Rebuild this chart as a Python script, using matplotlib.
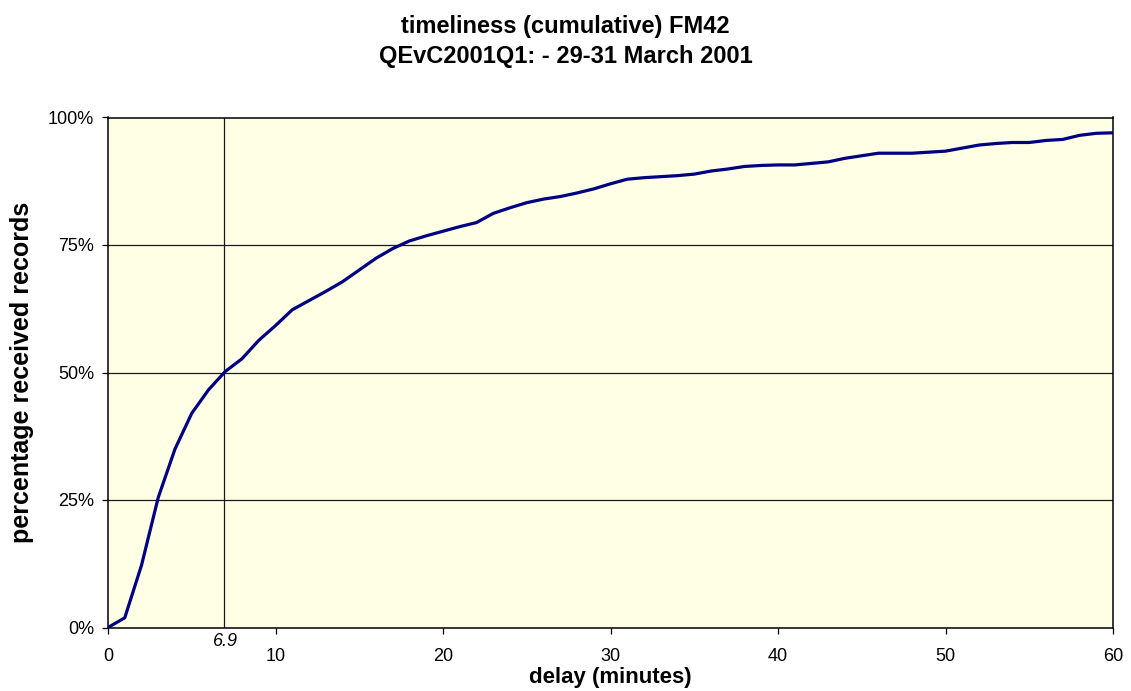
import matplotlib
matplotlib.use("Agg")
import matplotlib.pyplot as plt
from matplotlib.ticker import FuncFormatter
from matplotlib.transforms import offset_copy

plt.rcParams['font.family'] = ['Liberation Sans', 'DejaVu Sans']

delay_minutes = list(range(0, 61))
cumulative_pct = [
    0.0, 1.9, 12.2, 25.5, 35.0, 42.0, 46.6, 50.2, 52.7, 56.3,
    59.2, 62.3, 64.1, 65.9, 67.8, 70.1, 72.4, 74.3, 75.8, 76.8,
    77.7, 78.6, 79.4, 81.2, 82.3, 83.3, 84.0, 84.5, 85.2, 86.0,
    87.0, 87.9, 88.2, 88.4, 88.6, 88.9, 89.5, 89.9, 90.4, 90.6,
    90.7, 90.7, 91.0, 91.3, 92.0, 92.5, 93.0, 93.0, 93.0, 93.2,
    93.4, 94.0, 94.6, 94.9, 95.1, 95.1, 95.5, 95.7, 96.5, 96.9,
    97.0,
]
median_delay = 6.9
x_ticks = [0, 10, 20, 30, 40, 50, 60]
y_ticks = [0, 25, 50, 75, 100]
title_lines = ["timeliness (cumulative) FM42", "QEvC2001Q1: - 29-31 March 2001"]

W, H = 1131, 691
L, R, T, B = 108, 1113, 117.5, 627.5

fig = plt.figure(figsize=(W / 100, H / 100), dpi=100)
ax = fig.add_axes([L / W, 1 - B / H, (R - L) / W, (B - T) / H])
ax.set_facecolor('#FFFFE6')

for yv in y_ticks[1:-1]:
    ax.axhline(yv, color='#1a1a1a', lw=0.9, zorder=1)
ax.axvline(median_delay, color='#1a1a1a', lw=0.9, zorder=1)

ax.plot(delay_minutes, cumulative_pct, color='#000080', lw=2.3, zorder=3,
        solid_joinstyle='round')

ax.set_xlim(0, 60)
ax.set_ylim(0, 100)
ax.set_xticks(x_ticks)
ax.set_yticks(y_ticks)
ax.yaxis.set_major_formatter(FuncFormatter(lambda v, p: f"{int(v)}%"))
ax.tick_params(axis='both', direction='out', length=4, width=0.9,
               labelsize=13, colors='#000000')
ax.tick_params(axis='x', pad=11)
ax.tick_params(axis='y', pad=6)
for s in ax.spines.values():
    s.set_color('#000000')
    s.set_linewidth(1.1)

lab_tr = offset_copy(ax.get_xaxis_transform(), fig=fig, x=2, y=-5, units='dots')
ax.text(median_delay, 0, f"{median_delay}", ha='center', va='top',
        fontsize=13, style='italic', transform=lab_tr, clip_on=False)

ax.set_xlabel("delay (minutes)", fontsize=16, fontweight='bold', va='baseline')
ax.xaxis.set_label_coords(0.5, (B - 683) / (B - T))
ax.set_ylabel("percentage received records", fontsize=18, fontweight='bold',
              va='center', ha='center')
ax.yaxis.set_label_coords((22 - L) / (R - L), 0.5)

fig.text(0.5, 1 - 33 / H, title_lines[0], ha='center', va='baseline',
         fontsize=17, fontweight='bold')
fig.text(0.5, 1 - 63 / H, title_lines[1], ha='center', va='baseline',
         fontsize=17, fontweight='bold')

fig.savefig("out.png", dpi=100, facecolor='white')
